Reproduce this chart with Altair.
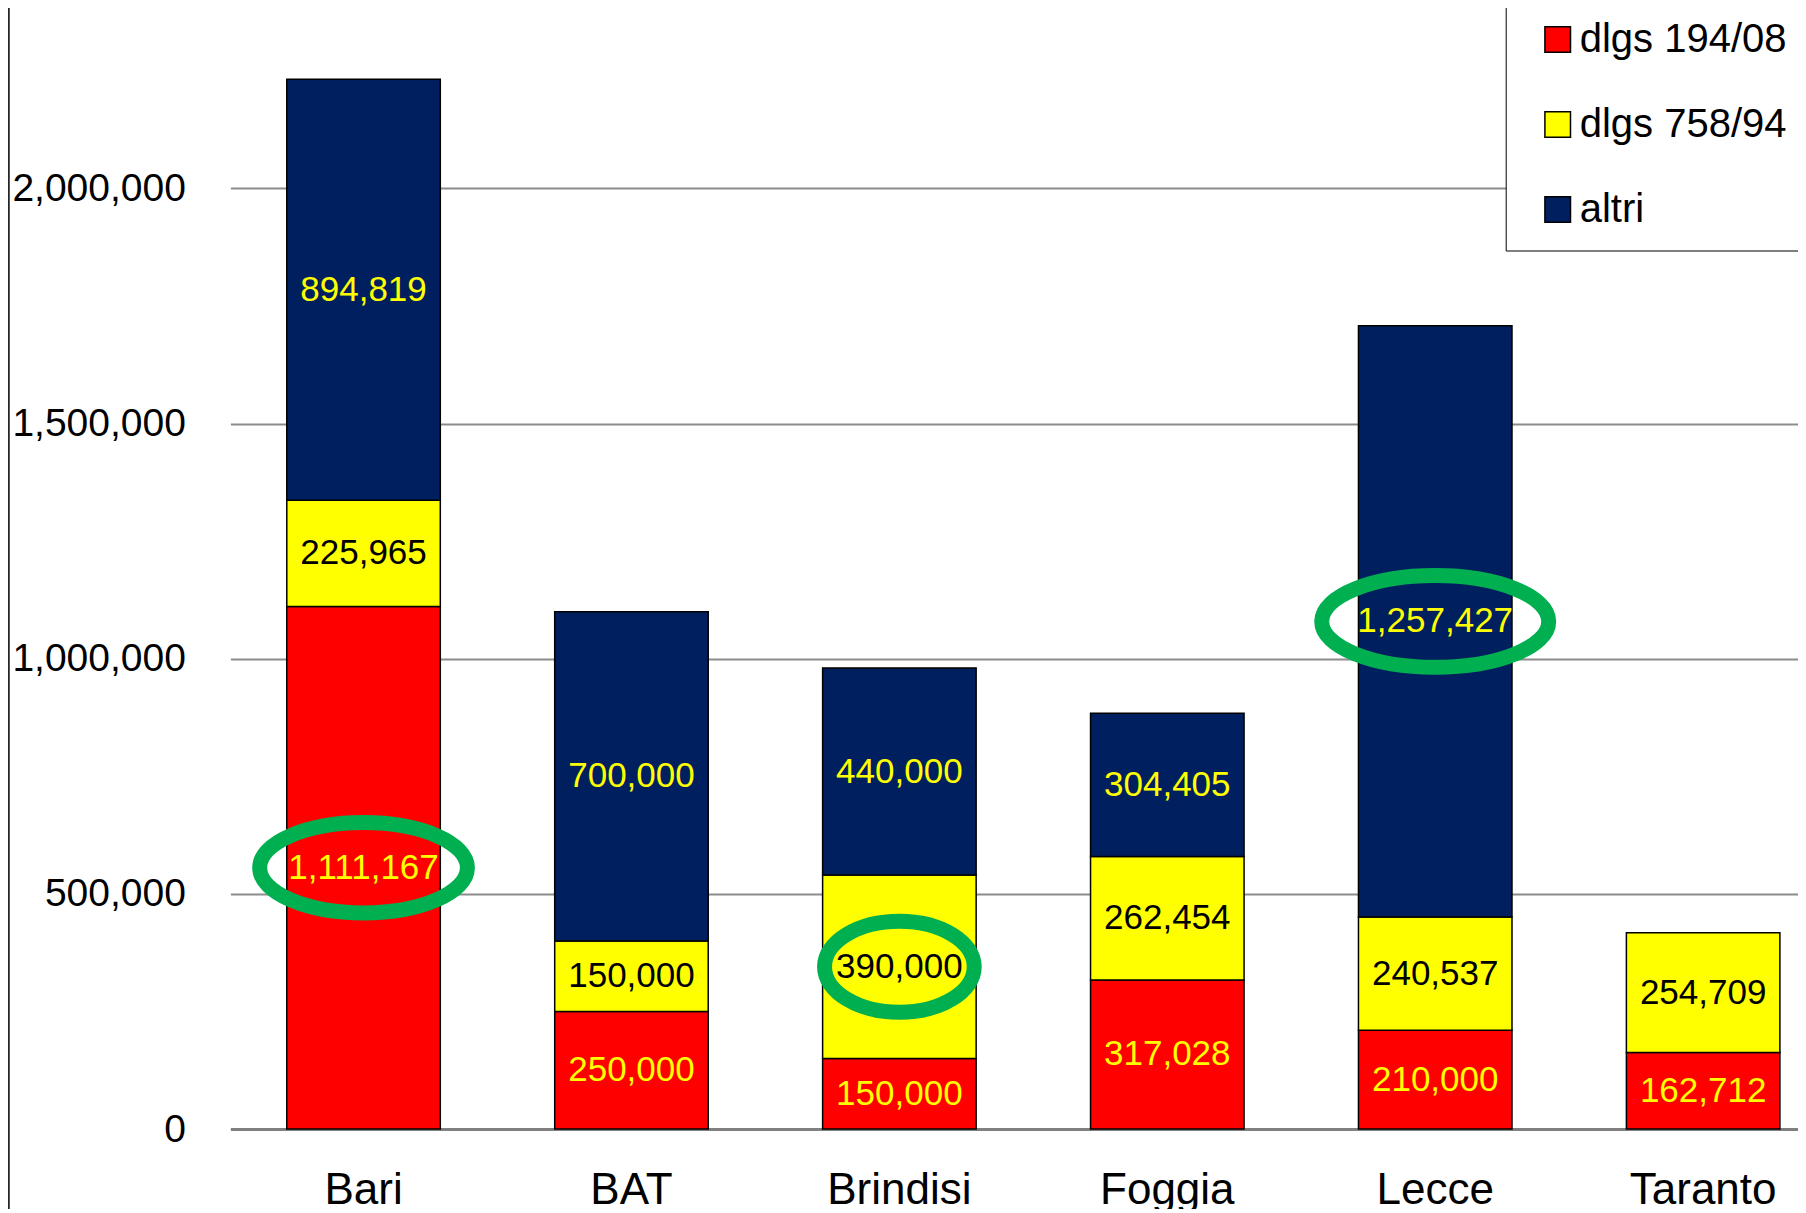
import altair as alt
import pandas as pd

regions = ["Bari", "BAT", "Brindisi", "Foggia", "Lecce", "Taranto"]
series = ["dlgs 194/08", "dlgs 758/94", "altri"]
dlgs_194_08 = [1111167, 250000, 150000, 317028, 210000, 162712]
dlgs_758_94 = [225965, 150000, 390000, 262454, 240537, 254709]
altri = [894819, 700000, 440000, 304405, 1257427, 0]
y_ticks = [0, 500000, 1000000, 1500000, 2000000]
colors = ["#FF0000", "#FFFF00", "#001F5F"]

rows = []
for i, r in enumerate(regions):
    for k, (s, vals) in enumerate(zip(series, [dlgs_194_08, dlgs_758_94, altri])):
        rows.append({"region": r, "series": s, "value": vals[i], "order": k})
df = pd.DataFrame(rows)

FONT = "Liberation Sans"

x_scale = alt.Scale(paddingInner=0.427, paddingOuter=0.139, align=0.757)
y_scale = alt.Scale(domain=[0, 2383600], nice=False, zero=True)

x_axis = alt.Axis(title=None, labelAngle=0, ticks=False, domainColor="#808080",
                  domainWidth=3, labelFont=FONT, labelFontSize=44, labelColor="black",
                  labelPadding=74, labelBaseline="alphabetic", grid=False)
y_axis = alt.Axis(title=None, values=y_ticks, format=",d", grid=True,
                  gridColor="#8c8c8c", gridWidth=2, domain=False, ticks=False,
                  labelFont=FONT, labelFontSize=39, labelColor="black",
                  labelPadding=45)

base = alt.Chart(df)

bars = base.transform_filter("datum.value > 0").mark_bar(
    stroke="black", strokeWidth=1.5
).encode(
    x=alt.X("region:N", sort=regions, scale=x_scale, axis=x_axis),
    y=alt.Y("value:Q", stack="zero", scale=y_scale, axis=y_axis),
    color=alt.Color("series:N", scale=alt.Scale(domain=series, range=colors),
                    legend=alt.Legend(
                        title=None, orient="none", legendX=1275.3, legendY=-9.5,
                        fillColor="white", strokeColor="black", padding=21,
                        symbolType="square", symbolSize=655, symbolStrokeColor="black",
                        symbolStrokeWidth=1.5, symbolOpacity=1, symbolOffset=11,
                        labelFont=FONT, labelFontSize=40, labelColor="black",
                        labelOffset=2, rowPadding=45, labelLimit=600,
                        labelExpr="datum.label + '\u00a0\u00a0\u00a0'")),
    order=alt.Order("order:Q", sort="ascending"),
)

stacked = base.transform_stack(
    stack="value", as_=["y0", "y1"], groupby=["region"],
    sort=[alt.SortField("order", "ascending")]
).transform_calculate(mid="(datum.y0 + datum.y1) / 2").transform_filter("datum.value > 0")

x_plain = alt.X("region:N", sort=regions, scale=x_scale, axis=x_axis)
y_plain = alt.Y("mid:Q", scale=y_scale, axis=y_axis)

labels = stacked.mark_text(font=FONT, fontSize=35, baseline="middle", align="center").encode(
    x=x_plain,
    y=y_plain,
    text=alt.Text("value:Q", format=",d"),
    fill=alt.condition("datum.series == 'dlgs 758/94'", alt.value("black"), alt.value("#FFFF00")),
)

def ellipse(region, ser, w, ratio):
    path = f"M-1,0 A1,{ratio} 0 1,1 1,0 A1,{ratio} 0 1,1 -1,0 Z"
    return stacked.transform_filter(
        f"datum.region == '{region}' && datum.series == '{ser}'"
    ).mark_point(shape=path, size=w * w, filled=False, stroke="#00B050",
                 strokeWidth=15, opacity=1).encode(x=x_plain, y=y_plain)

e1 = ellipse("Bari", "dlgs 194/08", 207.7, 0.435)
e2 = ellipse("Brindisi", "dlgs 758/94", 149.7, 0.608)
e3 = ellipse("Lecce", "altri", 227.0, 0.404)

border = alt.Chart(alt.Data(values=[{"a": 1}])).mark_rule(
    color="black", strokeWidth=1.5
).encode(x=alt.value(-221.5), y=alt.value(-20), y2=alt.value(1400))

chart = alt.layer(bars, labels, e1, e2, e3, border).properties(
    width=1567.6, height=1121,
    autosize=alt.AutoSizeParams(type="none"),
    padding={"left": 222.4, "top": 0, "right": 0, "bottom": 80},
).configure_view(stroke=None)

chart.save("out.html", embed_options={"renderer": "svg", "actions": False})
